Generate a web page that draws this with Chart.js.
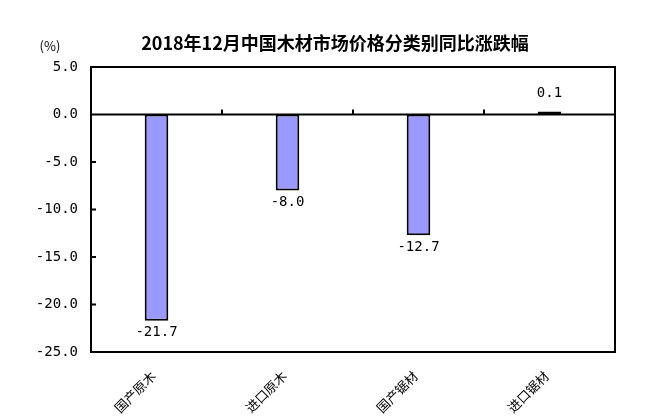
<!DOCTYPE html>
<html>
<head>
<meta charset="utf-8">
<script src="https://cdn.jsdelivr.net/npm/chart.js@4/dist/chart.umd.min.js"></script>
<style>
  html, body { margin: 0; padding: 0; background: #fff; }
  #wrap { width: 658px; height: 419px; }
</style>
</head>
<body>
<div id="wrap"><canvas id="price-chart"></canvas></div>
<script>
const categories = ['国产原木', '进口原木', '国产锯材', '进口锯材'];
const changes = [-21.7, -8.0, -12.7, 0.1];
const yTicks = [5, 0, -5, -10, -15, -20, -25];

const numFont = '14px "DejaVu Sans Mono"';

// frame, zero line, inner ticks, value labels
const decor = {
    id: 'decor',
    afterDatasetsDraw(chart) {
        const c = chart.ctx;
        const a = chart.chartArea;
        const x = chart.scales.x;
        const y = chart.scales.y;
        c.save();
        c.strokeStyle = '#000';
        c.lineWidth = 2;
        c.strokeRect(a.left, a.top, a.right - a.left, a.bottom - a.top);

        const y0 = y.getPixelForValue(0);
        c.beginPath();
        c.moveTo(a.left, y0);
        c.lineTo(a.right, y0);
        yTicks.forEach(v => {
            const py = y.getPixelForValue(v);
            c.moveTo(a.left, py);
            c.lineTo(a.left + 5, py);
        });
        for (let i = 1; i < categories.length; i++) {
            const px = (x.getPixelForValue(i - 1) + x.getPixelForValue(i)) / 2;
            c.moveTo(px, y0);
            c.lineTo(px, y0 - 5);
        }
        c.stroke();

        c.fillStyle = '#000';
        c.font = numFont;
        c.textAlign = 'center';
        c.textBaseline = 'middle';
        chart.getDatasetMeta(0).data.forEach((bar, i) => {
            const v = changes[i];
            const ty = v < 0 ? bar.y + 12 : bar.y - 18;
            c.fillText(v.toFixed(1), bar.x, ty);
        });

        c.font = 'bold 18px "Noto Sans CJK SC"';
        c.fillText('2018年12月中国木材市场价格分类别同比涨跌幅', 335, 43);
        c.font = '13px "Noto Sans CJK SC"';
        c.fillText('(%)', 50, 46);
        c.restore();
    }
};

new Chart(document.getElementById('price-chart'), {
    type: 'bar',
    data: {
        labels: categories,
        datasets: [{
            data: changes,
            backgroundColor: '#9999ff',
            borderColor: '#000',
            borderWidth: 2,
            borderSkipped: false,
            minBarLength: 3,
            categoryPercentage: 1,
            barPercentage: 0.18
        }]
    },
    options: {
        responsive: true,
        maintainAspectRatio: false,
        animation: false,
        layout: {
            padding: { left: 0, right: 43, top: 67, bottom: 0 }
        },
        plugins: {
            legend: { display: false },
            tooltip: { enabled: false }
        },
        scales: {
            x: {
                grid: { display: false, drawTicks: false },
                border: { display: false },
                afterFit(scale) { scale.height = 67; },
                ticks: {
                    minRotation: 45,
                    maxRotation: 45,
                    padding: 16,
                    labelOffset: -3,
                    color: '#000',
                    font: { size: 13, family: 'Noto Sans CJK SC' }
                }
            },
            y: {
                min: -25,
                max: 5,
                grid: { display: false, drawTicks: false },
                border: { display: false },
                afterFit(scale) { scale.width = 91; },
                ticks: {
                    stepSize: 5,
                    padding: 13,
                    color: '#000',
                    font: { size: 14, family: 'DejaVu Sans Mono' },
                    callback: v => v.toFixed(1)
                }
            }
        }
    },
    plugins: [decor]
});
</script>
</body>
</html>
